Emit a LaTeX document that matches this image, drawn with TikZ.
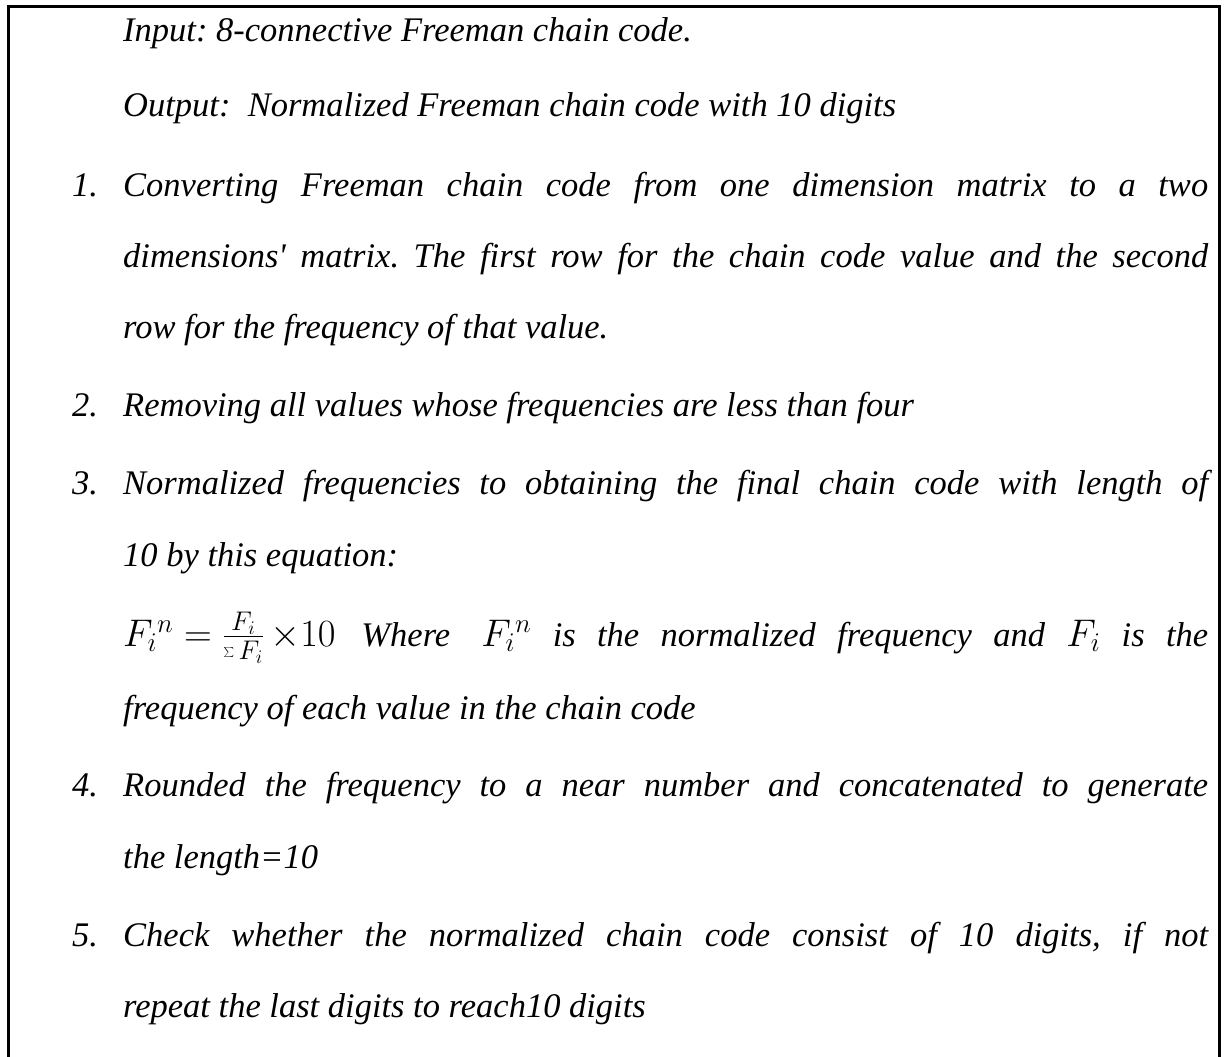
\documentclass[tikz,border=0pt]{standalone}
\usepackage{fix-cm}
\usepackage{fontspec}
\setmainfont{Liberation Serif}
\frenchspacing
\newlength\jw
\setlength\jw{1085pt}
% a line stretched to the full text width
\newcommand\jline[1]{\makebox[\jw][s]{#1}}
% formulas are set a little larger than the running text
\newcommand\bigmath[1]{\mbox{\fontsize{38.5}{44}\selectfont$#1$}}
\newcommand\Fin{\bigmath{F_{i}{}^{n}}}
\newcommand\Fi{\bigmath{F_{i}}}
\tikzset{
  txt/.style={anchor=base west, inner sep=0pt, font=\fontsize{34.5}{40}\selectfont\itshape},
  frame/.style={line width=2.6pt}
}
\begin{document}
\begin{tikzpicture}[x=1pt,y=-1pt]
\useasboundingbox (0,0) rectangle (1224,1057);
% open frame: left, top and right sides
\draw[frame] (8.5,1060) -- (8.5,6.5) -- (1219.5,6.5) -- (1219.5,1060);

\node[txt] (inp) at (123,42) {Input: 8-connective Freeman chain code.};
\node[txt] (outp) at (123,117) {Output:\ \ Normalized Freeman chain code with 10 digits};

\node[txt] (n1) at (72,196) {1.};
\node[txt] (s1a) at (123,196) {\jline{Converting Freeman chain code from one dimension matrix to a two}};
\node[txt] (s1b) at (123,267) {\jline{dimensions\textquotesingle\ matrix. The first row for the chain code value and the second}};
\node[txt] (s1c) at (123,338) {row for the frequency of that value.};

\node[txt] (n2) at (72,416) {2.};
\node[txt] (s2) at (123,416) {Removing all values whose frequencies are less than four};

\node[txt] (n3) at (72,494) {3.};
\node[txt] (s3a) at (123,494) {\jline{Normalized frequencies to obtaining the final chain code with length of}};
\node[txt] (s3b) at (123,566) {10 by this equation:};
\node[txt] (s3c) at (123,646) {\jline{\bigmath{F_{i}{}^{n}=\frac{F_{i}}{\sum F_{i}}\,{\times}10}\hspace{0.75em}Where\hspace{0.9em}\Fin{} is the normalized frequency and \Fi{} is the}};
\node[txt] (s3d) at (123,719) {frequency of each value in the chain code};

\node[txt] (n4) at (72,796) {4.};
\node[txt] (s4a) at (123,796) {\jline{Rounded the frequency to a near number and concatenated to generate}};
\node[txt] (s4b) at (123,868) {the length=10};

\node[txt] (n5) at (72,946) {5.};
\node[txt] (s5a) at (123,946) {\jline{Check whether the normalized chain code consist of 10 digits, if not}};
\node[txt] (s5b) at (123,1017) {repeat the last digits to reach10 digits};
\end{tikzpicture}
\end{document}
